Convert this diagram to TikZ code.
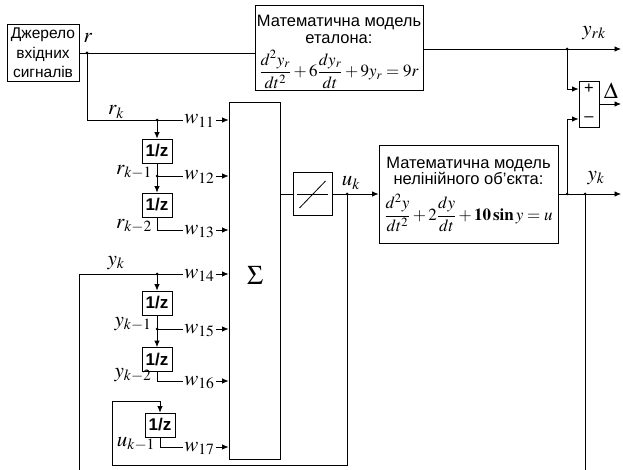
\documentclass[tikz,border=0pt]{standalone}
\usepackage{mathptmx}
\usepackage[no-math]{fontspec}
\setmainfont{Liberation Sans}
\usetikzlibrary{arrows.meta}
\begin{document}
\begin{tikzpicture}[x=1pt,y=-1pt,
  line width=0.8pt,
  arr/.style={-{Latex[length=6.5pt,width=5.5pt]}},
  blk/.style={draw,inner sep=0pt},
  dly/.style={draw,minimum width=30pt,minimum height=24pt,inner sep=0pt,font=\fontsize{17}{17}\selectfont\bfseries},
  lbl/.style={inner sep=0pt,font=\fontsize{21}{23}\selectfont},
  wl/.style={inner sep=1pt,anchor=base west,font=\fontsize{21}{23}\selectfont},
  dot/.style={circle,fill,inner sep=0pt,minimum size=3pt},
  txt/.style={inner sep=0pt,font=\fontsize{16.5}{16.5}\selectfont},
  fml/.style={inner sep=0pt,font=\fontsize{17}{17}\selectfont}
]
\useasboundingbox (0,0) rectangle (623,470);

% blocks
\node[blk,minimum width=72pt,minimum height=57pt,align=center,font=\fontsize{15.5}{19.5}\selectfont] (src) at (43,53) {Джерело\\вхідних\\сигналів};
\node[blk,minimum width=168pt,minimum height=85pt] (et) at (339,47.5) {};
\node[txt,align=center] (ett) at (339,29.5) {Математична модель\\еталона:};
\node[fml] (etf) at (339,69.5) {$\displaystyle\frac{d^2y_r}{dt^2}+6\frac{dy_r}{dt}+9y_r=9r$};

\node[blk,minimum width=179pt,minimum height=98pt] (nl) at (468.5,194) {};
\node[txt,align=center] (nlt) at (468.5,171) {Математична модель\\нелінійного об'єкта:};
\node[fml] (nlf) at (468.5,213) {$\displaystyle\frac{d^2y}{dt^2}+2\frac{dy}{dt}+\mathbf{10\,sin}\,y=u$};

\node[blk,minimum width=51pt,minimum height=357pt] (sig) at (254.5,280.5) {};
\node[inner sep=0pt,font=\fontsize{27}{27}\selectfont] (sigs) at (255,275) {$\Sigma$};

\node[blk,minimum width=39pt,minimum height=43pt] (sat) at (312.5,194) {};
\draw ([xshift=-15.5pt]sat.center) -- ([xshift=15.5pt]sat.center);
\draw ([shift={(-13pt,-14pt)}]sat.center) -- ([shift={(13pt,13pt)}]sat.center);

\node[blk,minimum width=20pt,minimum height=46pt] (sum) at (589,104) {};
\node[txt] (plus) at (589,89) {+};
\node[txt] (minus) at (589,119) {--};

\node[dly] (d1) at (157,151) {1/z};
\node[dly] (d2) at (157,205) {1/z};
\node[dly] (d3) at (157,303) {1/z};
\node[dly] (d4) at (157,359.5) {1/z};
\node[dly] (d5) at (160,425) {1/z};

% w labels
\node[wl] (w11) at (183,124) {$w_{11}$};
\node[wl] (w12) at (183,180) {$w_{12}$};
\node[wl] (w13) at (183,234) {$w_{13}$};
\node[wl] (w14) at (183,278) {$w_{14}$};
\node[wl] (w15) at (183,333) {$w_{15}$};
\node[wl] (w16) at (183,385) {$w_{16}$};
\node[wl] (w17) at (183,451) {$w_{17}$};

% signal labels
\node[lbl] (rl) at (88,38) {$r$};
\node[lbl] (rkl) at (116,112) {$r_k$};
\node[lbl] (rk1) at (134,172) {$r_{k-1}$};
\node[lbl] (rk2) at (134,226) {$r_{k-2}$};
\node[lbl] (ykl2) at (116,263) {$y_k$};
\node[lbl] (yk1) at (133,324) {$y_{k-1}$};
\node[lbl] (yk2) at (133,375) {$y_{k-2}$};
\node[lbl] (uk1) at (136,444) {$u_{k-1}$};
\node[lbl] (ukl) at (351,183) {$u_k$};
\node[lbl] (yrkl) at (594,33) {$y_{rk}$};
\node[lbl] (ykl) at (596,178) {$y_k$};
\node[inner sep=0pt,font=\fontsize{23}{23}\selectfont] (dl) at (611,91) {$\Delta$};

% coordinates
\coordinate (jr) at (87,53);
\coordinate (yo) at (621,49);
\coordinate (jyr) at (567,49);
\coordinate (yko) at (621,194);
\coordinate (jm) at (567,194);
\coordinate (jy) at (585,194);
\coordinate (ybot) at (585,470);
\coordinate (do) at (621,104);
\coordinate (ju) at (347,194);
\coordinate (ub) at (347,465);
\coordinate (ul) at (112,401);
\coordinate (r1) at (87,120);
\coordinate (j1) at (157,120);
\coordinate (j2) at (157,176);
\coordinate (c3) at (157,230);
\coordinate (yl) at (79,274);
\coordinate (ylbot) at (79,470);
\coordinate (j4) at (157,274);
\coordinate (j5) at (157,329);
\coordinate (c6) at (157,381);
\coordinate (c7) at (160,447);

% top path
\draw (src.east |- jr) -- (et.west |- jr);
\draw[arr] (et.east |- yo) -- (yo);
\draw[arr] (jyr) |- (sum.west |- plus);
\draw[arr] (jm) |- (sum.west |- minus);
\draw[arr] (sum.east) -- (do);

% main path
\draw (sig.east |- sat) -- (sat.west);
\draw[arr] (sat.east) -- (nl.west);
\draw[arr] (nl.east) -- (yko);
\draw (jy) -- (ybot);
\draw[arr] (ju) -- (ub) -| (ul) -| (d5.north);

% left chain
\draw (jr) -- (r1) -- (w11.west |- r1);
\draw[arr] (j1) -- (d1.north);
\draw[arr] (w11.east |- r1) -- (sig.west |- r1);

\draw (d1.south) -- (j2) -- (w12.west |- j2);
\draw[arr] (j2) -- (d2.north);
\draw[arr] (w12.east |- j2) -- (sig.west |- j2);

\draw (d2.south) -- (c3) -- (w13.west |- c3);
\draw[arr] (w13.east |- c3) -- (sig.west |- c3);

\draw (ylbot) -- (yl) -- (w14.west |- yl);
\draw[arr] (j4) -- (d3.north);
\draw[arr] (w14.east |- yl) -- (sig.west |- yl);

\draw (d3.south) -- (j5) -- (w15.west |- j5);
\draw[arr] (j5) -- (d4.north);
\draw[arr] (w15.east |- j5) -- (sig.west |- j5);

\draw (d4.south) -- (c6) -- (w16.west |- c6);
\draw[arr] (w16.east |- c6) -- (sig.west |- c6);

\draw (d5.south) -- (c7) -- (w17.west |- c7);
\draw[arr] (w17.east |- c7) -- (sig.west |- c7);

% junction dots
\foreach \p in {jr,jyr,jm,jy,ju,j1,j2,j4,j5} \node[dot] at (\p) {};
\end{tikzpicture}
\end{document}
